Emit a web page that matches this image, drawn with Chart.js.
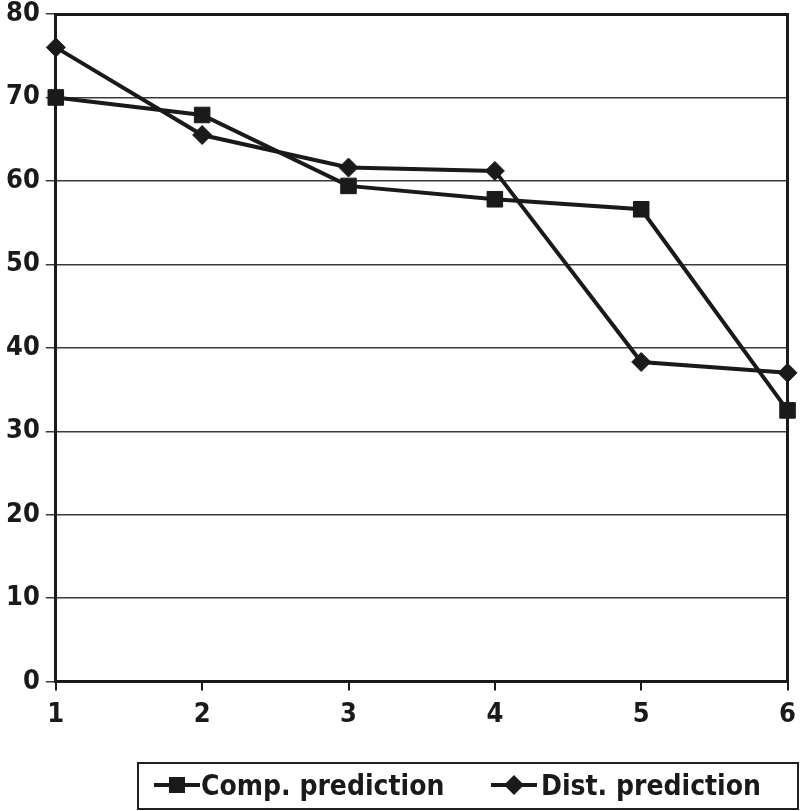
<!DOCTYPE html>
<html>
<head>
<meta charset="utf-8">
<script src="https://cdn.jsdelivr.net/npm/chart.js@4"></script>
<style>
  html, body { margin: 0; padding: 0; background: #fff; }
  #wrap { position: relative; width: 804px; height: 811px; }
  #legend {
    position: absolute; left: 137px; top: 762px; width: 662px; height: 48px;
    border: 2px solid #222; box-sizing: border-box;
    font-family: "DejaVu Sans Condensed", "Liberation Sans", Arial, sans-serif;
    font-weight: bold; font-size: 28px; color: #1a1a1a;
  }
  #legend .item { display: flex; align-items: center; position: absolute; top: 3px; }
  #legend svg { display: block; }
</style>
</head>
<body>
<div id="wrap">
  <canvas id="myChart" width="804" height="811"></canvas>
  <div id="legend">
    <div class="item" style="left:14px">
      <svg width="48" height="36"><line x1="1" y1="18" x2="47" y2="18" stroke="#1a1a1a" stroke-width="4"/><rect x="16" y="10" width="16" height="16" fill="#1a1a1a"/></svg>
      <span>Comp. prediction</span>
    </div>
    <div class="item" style="left:350px">
      <svg width="50" height="36"><line x1="2" y1="18" x2="48" y2="18" stroke="#1a1a1a" stroke-width="4"/><polygon points="25,8 35,18 25,28 15,18" fill="#1a1a1a"/></svg>
      <span style="margin-left:2px">Dist. prediction</span>
    </div>
  </div>
</div>
<script>
const categories = ['1', '2', '3', '4', '5', '6'];
const compPrediction = [70, 67.9, 59.4, 57.8, 56.6, 32.5];
const distPrediction = [76, 65.5, 61.6, 61.2, 38.3, 37];
const yTicks = [0, 10, 20, 30, 40, 50, 60, 70, 80];

const ink = '#1a1a1a';
const tickFont = { family: '"DejaVu Sans Condensed", "Liberation Sans", Arial, sans-serif', size: 27, weight: 'bold' };

const ctx = document.getElementById('myChart');

new Chart(ctx, {
    type: 'line',
    data: {
        labels: categories,
        datasets: [{
            label: 'Comp. prediction',
            data: compPrediction,
            borderColor: ink,
            backgroundColor: ink,
            borderWidth: 4,
            pointStyle: 'rect',
            pointRadius: 11,
            pointBorderWidth: 1,
            tension: 0
        }, {
            label: 'Dist. prediction',
            data: distPrediction,
            borderColor: ink,
            backgroundColor: ink,
            borderWidth: 4,
            pointStyle: 'rectRot',
            pointRadius: 9.5,
            pointBorderWidth: 1,
            tension: 0
        }]
    },
    options: {
        responsive: false,
        animation: false,
        layout: { padding: { left: 0, right: 2, top: 6, bottom: 72 } },
        plugins: {
            legend: { display: false },
            tooltip: { enabled: false }
        },
        scales: {
            x: {
                offset: false,
                grid: {
                    drawOnChartArea: false,
                    color: ink,
                    lineWidth: 2,
                    tickLength: 9
                },
                border: { color: ink, width: 3 },
                ticks: { color: ink, font: tickFont, padding: 8, maxRotation: 0 }
            },
            xTop: {
                type: 'category',
                position: 'top',
                labels: categories,
                offset: false,
                grid: { display: false },
                ticks: { display: false },
                border: { color: ink, width: 3 }
            },
            y: {
                min: 0,
                max: 80,
                afterBuildTicks: axis => { axis.ticks = yTicks.map(v => ({ value: v })); },
                // let the top label hang above the plot instead of pushing it down
                afterFit: axis => { axis.paddingTop = 0; },
                grid: {
                    color: '#3a3a3a',
                    lineWidth: 1.5,
                    tickLength: 10
                },
                border: { color: ink, width: 3 },
                ticks: { color: ink, font: tickFont, padding: 6 }
            },
            yRight: {
                position: 'right',
                min: 0,
                max: 80,
                grid: { display: false },
                ticks: { display: false },
                border: { color: ink, width: 3 }
            }
        }
    }
});
</script>
</body>
</html>
